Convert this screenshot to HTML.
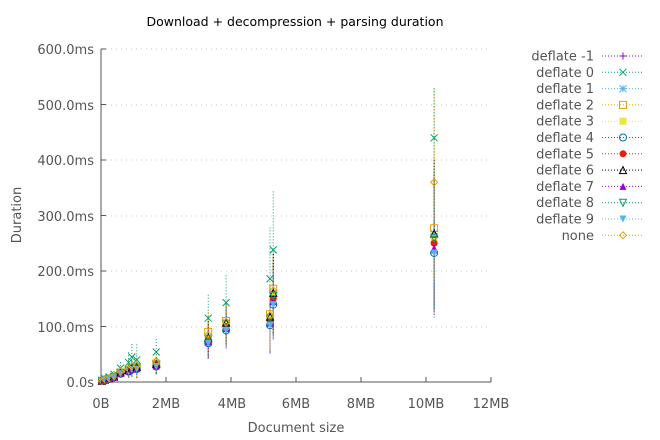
<!DOCTYPE html>
<html><head><meta charset="utf-8"><style>
body{margin:0;background:#fff}
svg{display:block;font-family:"DejaVu Sans","Liberation Sans",sans-serif}
</style></head><body>
<svg id="s" width="660" height="440" viewBox="0 0 660 440" xmlns="http://www.w3.org/2000/svg">
<rect width="660" height="440" fill="#fff"/>
<g stroke="#c8c8c8" stroke-dasharray="1,4" stroke-width="1">
<line x1="101" x2="491" y1="327" y2="327"/><line x1="101" x2="491" y1="271" y2="271"/>
<line x1="101" x2="491" y1="216" y2="216"/><line x1="101" x2="491" y1="160" y2="160"/>
<line x1="101" x2="491" y1="105" y2="105"/><line x1="101" x2="491" y1="49" y2="49"/>
</g>
<g stroke="#555" stroke-width="1">
<line x1="101" y1="49" x2="101" y2="382"/><line x1="101" y1="382" x2="491" y2="382"/>
</g>
<g id="ticks" stroke="#555"></g>
<g font-size="13" fill="#555" text-anchor="end">
<text x="94" y="387">0.0s</text><text x="94" y="332">100.0ms</text><text x="94" y="276">200.0ms</text>
<text x="94" y="221">300.0ms</text><text x="94" y="165">400.0ms</text><text x="94" y="110">500.0ms</text><text x="94" y="54">600.0ms</text>
</g>
<g font-size="13" fill="#555" text-anchor="middle">
<text x="101" y="408">0B</text><text x="166" y="408">2MB</text><text x="232" y="408">4MB</text>
<text x="296" y="408">6MB</text><text x="361" y="408">8MB</text><text x="426" y="408">10MB</text><text x="491" y="408">12MB</text>
<text x="296" y="432">Document size</text>
<text x="295" y="26" font-size="12.5" fill="#000">Download + decompression + parsing duration</text>
<text transform="translate(21,215) rotate(-90)">Duration</text>
</g>
<g id="data"></g>
<g id="leg" font-size="13" fill="#555" text-anchor="end"></g>
</svg>
<script>
var NS="http://www.w3.org/2000/svg";
function el(p,t,a){var e=document.createElementNS(NS,t);for(var k in a)e.setAttribute(k,a[k]);p.appendChild(e);return e;}
var X=function(m){return 101+m*32.5},Y=function(v){return 382-v*0.555};
var tk=document.getElementById('ticks');
for(var i=1;i<=6;i++){var x=101+i*65;el(tk,'line',{x1:x,x2:x,y1:382,y2:377});}
for(var j=1;j<=6;j++){var y=382-j*55.5;el(tk,'line',{x1:101,x2:106,y1:y,y2:y});}
var cols=['#9400d3','#009e73','#56b4e9','#e69f00','#f0e442','#0072b2','#e51e10','#000000','#9400d3','#009e73','#56b4e9','#e69f00'];
var names=['deflate -1','deflate 0','deflate 1','deflate 2','deflate 3','deflate 4','deflate 5','deflate 6','deflate 7','deflate 8','deflate 9','none'];
function mark(g,k,x,y){var c=cols[k],s=3.5;
 switch(k){
 case 0:el(g,'path',{d:`M${x-s},${y}h${2*s}M${x},${y-s}v${2*s}`,stroke:c,fill:'none'});break;
 case 1:el(g,'path',{d:`M${x-s},${y-s}l${2*s},${2*s}M${x-s},${y+s}l${2*s},${-2*s}`,stroke:c,fill:'none'});break;
 case 2:el(g,'path',{d:`M${x-s},${y}h${2*s}M${x},${y-s}v${2*s}M${x-s},${y-s}l${2*s},${2*s}M${x-s},${y+s}l${2*s},${-2*s}`,stroke:c,fill:'none'});break;
 case 3:el(g,'rect',{x:x-s,y:y-s,width:2*s,height:2*s,stroke:c,fill:'none'});break;
 case 4:el(g,'rect',{x:x-s,y:y-s,width:2*s,height:2*s,fill:c});break;
 case 5:el(g,'circle',{cx:x,cy:y,r:s,stroke:c,fill:'none'});break;
 case 6:el(g,'circle',{cx:x,cy:y,r:s,fill:c});break;
 case 7:el(g,'path',{d:`M${x-s},${y+s}L${x},${y-s}L${x+s},${y+s}Z`,stroke:c,fill:'none'});break;
 case 8:el(g,'path',{d:`M${x-s},${y+s}L${x},${y-s}L${x+s},${y+s}Z`,fill:c});break;
 case 9:el(g,'path',{d:`M${x-s},${y-s}L${x},${y+s}L${x+s},${y-s}Z`,stroke:c,fill:'none'});break;
 case 10:el(g,'path',{d:`M${x-s},${y-s}L${x},${y+s}L${x+s},${y-s}Z`,fill:c});break;
 case 11:el(g,'path',{d:`M${x-s},${y}L${x},${y-s}L${x+s},${y}L${x},${y+s}Z`,stroke:c,fill:'none'});break;
 }}
var cl=[[0.03,2,3,2,2,0.8],[0.12,4,6,5,4,0.6],[0.25,6,9,7,6,0.6],[0.4,9,14,11,9,0.5],[0.6,16,25,19,17,0.5],
[0.85,20,35,24,22,0.6],[0.95,24,45,28,26,0.6],[1.1,25,40,30,27,0.7],[1.7,30,54,38,33,0.5],
[3.3,75,115,85,90,0.4],[3.85,100,143,108,110,0.35],[5.2,110,186,120,122,0.5],[5.3,150,238,165,168,0.45],[10.25,250,440,360,277,0.5]];
var dg=document.getElementById('data');
function val(c,k){var v=c[1]*(0.93+((k*7)%5)*0.035);if(k==1)v=c[2];if(k==11)v=c[3];if(k==3)v=c[4];return v;}
cl.forEach(function(c){
 for(var k=0;k<12;k++){var v=val(c,k),x=X(c[0]),e=v*c[5];
  el(dg,'line',{x1:x,x2:x,y1:Y(v-e),y2:Y(Math.min(v+e,530)),stroke:cols[k],'stroke-dasharray':'1,2','stroke-width':1});}
});
cl.forEach(function(c){for(var k=0;k<12;k++)mark(dg,k,X(c[0]),Y(val(c,k)));});
var lg=document.getElementById('leg');
for(var k=0;k<12;k++){var y=56+k*16.3;
 var t=el(lg,'text',{x:594,y:y+4.5});t.textContent=names[k];
 el(lg,'line',{x1:602,x2:643,y1:y,y2:y,stroke:cols[k],'stroke-dasharray':'1,2'});
 mark(lg,k,623,y);}
</script>
</body></html>
